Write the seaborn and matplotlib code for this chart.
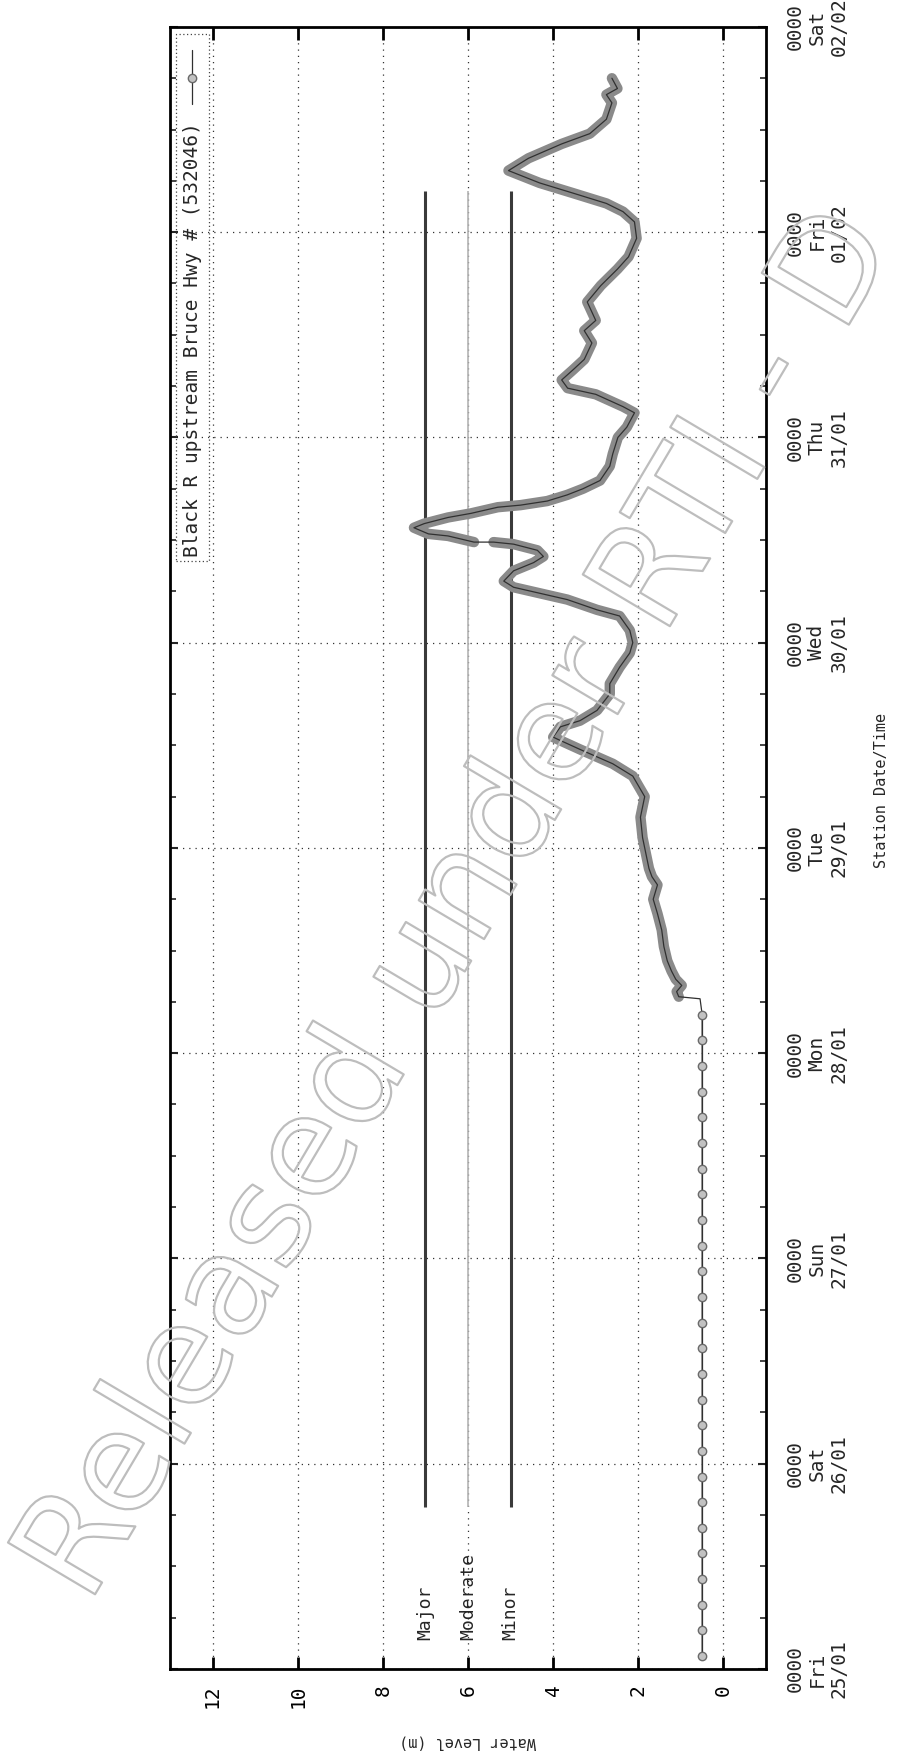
import numpy as np
import pandas as pd
import matplotlib
matplotlib.use("Agg")
import matplotlib.pyplot as plt
import matplotlib.patheffects as pe
from matplotlib.ticker import MultipleLocator
import seaborn as sns

# time is in days since Fri 25/01 0000, level in metres
sparse_day = [0.0625 + 0.125 * k for k in range(26)]
sparse_level = [0.5] * 26

dense_day = [3.265, 3.275, 3.30, 3.33, 3.36, 3.40, 3.45, 3.52, 3.60, 3.68, 3.75, 3.82,
             3.86, 3.90, 3.97, 4.05, 4.15, 4.25, 4.35, 4.41, 4.48, 4.53, 4.54, 4.59,
             4.62, 4.67, 4.75, 4.80, 4.88, 4.95, 5.00, 5.06, 5.13, 5.16, 5.21, 5.24,
             5.27, 5.30, 5.35, 5.39, 5.42, 5.45, 5.48, 5.49]
dense_level = [0.55, 1.05, 1.10, 0.98, 1.12, 1.22, 1.32, 1.40, 1.45, 1.55, 1.65, 1.55,
               1.68, 1.75, 1.82, 1.90, 1.95, 1.85, 2.13, 2.60, 3.37, 3.90, 4.00, 3.83,
               3.37, 2.97, 2.67, 2.67, 2.44, 2.20, 2.13, 2.20, 2.44, 2.97, 3.67, 4.30,
               4.93, 5.16, 4.93, 4.46, 4.23, 4.37, 4.93, 5.40]

dense2_day = [5.49, 5.52, 5.53, 5.56, 5.58, 5.61, 5.63, 5.66, 5.67, 5.69, 5.72, 5.75,
              5.79, 5.86, 5.92, 6.00, 6.05, 6.12, 6.15, 6.21, 6.24, 6.28, 6.33, 6.38,
              6.46, 6.52, 6.57, 6.66, 6.74, 6.82, 6.88, 6.97, 7.05, 7.10, 7.14, 7.19,
              7.24, 7.30, 7.36, 7.43, 7.48, 7.55, 7.63, 7.67, 7.70, 7.75]
dense2_level = [5.86, 6.47, 6.93, 7.27, 7.03, 6.47, 5.93, 5.30, 4.77, 4.14, 3.67, 3.30,
                2.90, 2.67, 2.60, 2.48, 2.27, 2.09, 2.36, 3.00, 3.66, 3.80, 3.53, 3.27,
                3.09, 3.27, 3.00, 3.20, 2.88, 2.49, 2.23, 2.04, 2.09, 2.36, 2.75, 3.53,
                4.32, 5.05, 4.58, 3.80, 3.14, 2.75, 2.62, 2.75, 2.49, 2.62]

threshold_names = ["Major", "Moderate", "Minor"]
threshold_levels = [7.0, 6.0, 5.0]
threshold_colors = ["#3a3a3a", "#b4b4b4", "#3a3a3a"]
threshold_widths = [2.2, 1.2, 2.2]
threshold_span = [0.79, 7.2]

level_ticks = [0, 2, 4, 6, 8, 10, 12]
day_ticks = [0, 1, 2, 3, 4, 5, 6, 7, 8]
day_labels = ["0000\nFri\n25/01", "0000\nSat\n26/01", "0000\nSun\n27/01",
              "0000\nMon\n28/01", "0000\nTue\n29/01", "0000\nWed\n30/01",
              "0000\nThu\n31/01", "0000\nFri\n01/02", "0000\nSat\n02/02"]

series_name = "Black R upstream Bruce Hwy # (532046)"

sns.set_style("white")
plt.rcParams['font.family'] = ['DejaVu Sans Mono', 'DejaVu Sans']

fig = plt.figure(figsize=(8.99, 17.59), dpi=100)
ax = fig.add_axes([0.1891, 0.0512, 0.6630, 0.9335])

# flood class lines
ax.vlines(threshold_levels, threshold_span[0], threshold_span[1],
          colors=threshold_colors, linewidth=threshold_widths, zorder=2)
for name, lvl in zip(threshold_names, threshold_levels):
    ax.text(lvl, 0.14, name, rotation=90, ha="center", va="bottom", fontsize=13)

# dense readings: thick grey band of overlapping markers
for d, l in [(dense_day[1:], dense_level[1:]), (dense2_day, dense2_level)]:
    sns.lineplot(x=l, y=d, sort=False, estimator=None, ax=ax,
                 color="#8a8a8a", linewidth=7.5, zorder=3)
all_day = sparse_day + dense_day + dense2_day
all_level = sparse_level + dense_level + dense2_level
sns.lineplot(x=all_level, y=all_day, sort=False, estimator=None, ax=ax,
             color="#303030", linewidth=0.9, zorder=4)
sns.lineplot(x=sparse_level, y=sparse_day, sort=False, estimator=None, ax=ax,
             color="#303030", linewidth=0.9, marker="o", markersize=6,
             markerfacecolor="#c2c2c2", markeredgecolor="#6a6a6a",
             markeredgewidth=1, zorder=5)

ax.set_xlim(13, -1)
ax.set_ylim(0, 8)

ax.set_xticks(level_ticks)
ax.set_xticklabels([str(v) for v in level_ticks], rotation=90, fontsize=14)
ax.set_yticks(day_ticks)
ax.set_yticklabels(day_labels, rotation=90, fontsize=14, va="center",
                   multialignment="center")
ax.yaxis.set_minor_locator(MultipleLocator(0.25))
ax.yaxis.tick_right()
ax.tick_params(axis="x", which="major", direction="in", top=True, bottom=True,
               length=9, width=2, pad=11, colors="black")
ax.tick_params(axis="y", which="major", direction="in", left=True, right=True,
               labelleft=False, labelright=True, length=6, width=1.5, pad=14)
ax.tick_params(axis="y", which="minor", direction="in", left=True, right=True,
               length=4, width=1.2)

ax.grid(True, which="major", linestyle=(0, (1, 4)), color="#333333", linewidth=0.9)
for s in ax.spines.values():
    s.set_linewidth(2)
    s.set_color("black")

ax.set_xlabel("Water Level (m)", rotation=180, fontsize=11, va="center")
ax.xaxis.set_label_coords(0.5, -0.0445)
ax.yaxis.set_label_position("right")
ax.set_ylabel("Station Date/Time", rotation=90, fontsize=11, va="center")
ax.yaxis.set_label_coords(1.193, 0.535)

# legend drawn by hand because it has to be turned with the chart
ax.add_patch(plt.Rectangle((0.01, 0.675), 0.055, 0.3205, transform=ax.transAxes,
                           fill=False, linestyle=(0, (1, 2)), linewidth=0.9,
                           edgecolor="#444444", zorder=6))
ax.text(0.037, 0.942, series_name, transform=ax.transAxes, rotation=90,
        ha="center", va="top", fontsize=14, zorder=7)
ax.plot([0.037, 0.037], [0.953, 0.986], transform=ax.transAxes,
        color="#303030", linewidth=0.9, zorder=7)
ax.plot([0.037], [0.969], transform=ax.transAxes, marker="o", markersize=6,
        markerfacecolor="#c2c2c2", markeredgecolor="#6a6a6a", zorder=8)

# watermark
fig.text(0.098, 0.087, "Released under RTI - D", rotation=59.3,
         rotation_mode="anchor", ha="left", va="baseline", fontsize=100,
         family="DejaVu Sans", color="none",
         path_effects=[pe.Stroke(linewidth=1.6, foreground="#bdbdbd")], zorder=10)

fig.savefig("out.png", dpi=100)
